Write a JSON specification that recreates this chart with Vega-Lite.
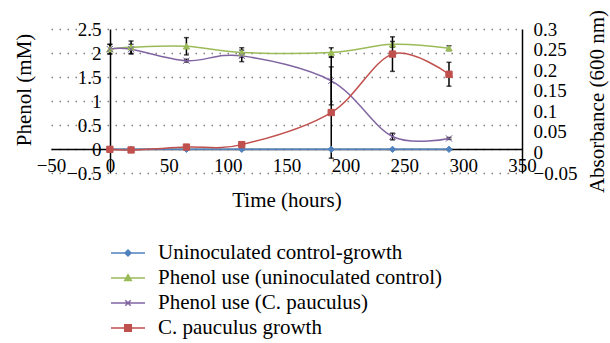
{
  "$schema": "https://vega.github.io/schema/vega-lite/v6.json",
  "width": 471,
  "height": 144,
  "autosize": {"type": "none"},
  "padding": {"left": 51, "top": 29, "right": 88, "bottom": 170},
  "background": "white",
  "config": {
    "font": "Liberation Serif",
    "view": {"stroke": null},
    "axis": {
      "labelFont": "Liberation Serif",
      "titleFont": "Liberation Serif",
      "labelColor": "black",
      "titleColor": "black",
      "titleFontWeight": "normal",
      "labelFontSize": 19,
      "titleFontSize": 21,
      "labelFlush": false,
      "labelOverlap": false,
      "labelBound": false,
      "ticks": false,
      "domainColor": "black",
      "domainWidth": 1.5,
      "format": "~f"
    }
  },
  "data": {
    "values": [
      {"time": 0, "series": "Uninoculated control-growth", "measure": "absorbance", "value": 0.0075, "err": 0},
      {"time": 18, "series": "Uninoculated control-growth", "measure": "absorbance", "value": 0.0075, "err": 0},
      {"time": 65, "series": "Uninoculated control-growth", "measure": "absorbance", "value": 0.0075, "err": 0},
      {"time": 112, "series": "Uninoculated control-growth", "measure": "absorbance", "value": 0.0075, "err": 0},
      {"time": 188, "series": "Uninoculated control-growth", "measure": "absorbance", "value": 0.0075, "err": 0},
      {"time": 240, "series": "Uninoculated control-growth", "measure": "absorbance", "value": 0.0075, "err": 0},
      {"time": 288, "series": "Uninoculated control-growth", "measure": "absorbance", "value": 0.0075, "err": 0},
      {"time": 0, "series": "Phenol use (uninoculated control)", "measure": "phenol", "value": 2.08, "err": 0.1},
      {"time": 18, "series": "Phenol use (uninoculated control)", "measure": "phenol", "value": 2.12, "err": 0.13},
      {"time": 65, "series": "Phenol use (uninoculated control)", "measure": "phenol", "value": 2.14, "err": 0.18},
      {"time": 112, "series": "Phenol use (uninoculated control)", "measure": "phenol", "value": 2.01, "err": 0.1},
      {"time": 188, "series": "Phenol use (uninoculated control)", "measure": "phenol", "value": 2.01, "err": 0.1},
      {"time": 240, "series": "Phenol use (uninoculated control)", "measure": "phenol", "value": 2.18, "err": 0.06},
      {"time": 288, "series": "Phenol use (uninoculated control)", "measure": "phenol", "value": 2.1, "err": 0.05},
      {"time": 0, "series": "Phenol use (C. pauculus)", "measure": "phenol", "value": 2.08, "err": 0.1},
      {"time": 18, "series": "Phenol use (C. pauculus)", "measure": "phenol", "value": 2.08, "err": 0.1},
      {"time": 65, "series": "Phenol use (C. pauculus)", "measure": "phenol", "value": 1.84, "err": 0.03},
      {"time": 112, "series": "Phenol use (C. pauculus)", "measure": "phenol", "value": 1.94, "err": 0.12},
      {"time": 188, "series": "Phenol use (C. pauculus)", "measure": "phenol", "value": 1.42, "err": 0.5},
      {"time": 240, "series": "Phenol use (C. pauculus)", "measure": "phenol", "value": 0.26, "err": 0.07},
      {"time": 288, "series": "Phenol use (C. pauculus)", "measure": "phenol", "value": 0.22, "err": 0.02},
      {"time": 0, "series": "C. pauculus growth", "measure": "absorbance", "value": 0.0075, "err": 0},
      {"time": 18, "series": "C. pauculus growth", "measure": "absorbance", "value": 0.006, "err": 0},
      {"time": 65, "series": "C. pauculus growth", "measure": "absorbance", "value": 0.013, "err": 0},
      {"time": 112, "series": "C. pauculus growth", "measure": "absorbance", "value": 0.019, "err": 0},
      {"time": 188, "series": "C. pauculus growth", "measure": "absorbance", "value": 0.097, "err": 0.111},
      {"time": 240, "series": "C. pauculus growth", "measure": "absorbance", "value": 0.239, "err": 0.042},
      {"time": 288, "series": "C. pauculus growth", "measure": "absorbance", "value": 0.19, "err": 0.029}
    ]
  },
  "encoding": {
    "x": {
      "field": "time",
      "type": "quantitative",
      "scale": {"domain": [-50, 350], "nice": false, "zero": false},
      "axis": {
        "orient": "bottom",
        "offset": -24,
        "values": [-50, 0, 50, 100, 150, 200, 250, 300, 350],
        "title": "Time (hours)",
        "titleX": 235.5,
        "titleY": 57,
        "titleBaseline": "alphabetic",
        "titleAlign": "center",
        "labelPadding": 7,
        "grid": false
      }
    },
    "color": {
      "field": "series",
      "type": "nominal",
      "scale": {
        "domain": ["Uninoculated control-growth", "Phenol use (uninoculated control)", "Phenol use (C. pauculus)", "C. pauculus growth"],
        "range": ["#4f81bd", "#9bbb59", "#8064a2", "#c0504d"]
      },
      "legend": null
    }
  },
  "layer": [
    {
      "transform": [{"filter": "datum.measure == 'phenol'"}],
      "encoding": {
        "y": {
          "field": "value",
          "type": "quantitative",
          "scale": {"domain": [-0.5, 2.5], "nice": false, "zero": false},
          "axis": {
            "orient": "left",
            "offset": -59,
            "values": [-0.5, 0, 0.5, 1, 1.5, 2, 2.5],
            "title": "Phenol (mM)",
            "titleAngle": 270,
            "titleX": -80,
            "titleY": 60.5,
            "titleBaseline": "alphabetic",
            "titleAlign": "center",
            "labelPadding": 9,
            "grid": true,
            "gridColor": "#7f7f7f",
            "gridDash": [1.5, 6.5],
            "gridWidth": 1.3,
            "gridOpacity": 1
          }
        }
      },
      "layer": [
        {
          "transform": [{"filter": "datum.err > 0"}],
          "mark": {"type": "errorbar", "ticks": {"size": 5}, "thickness": 1.5},
          "encoding": {
            "yError": {"field": "err"},
            "color": {"value": "black"}
          }
        },
        {
          "mark": {"type": "line", "interpolate": "cardinal", "strokeWidth": 1.5}
        },
        {
          "mark": {"type": "point", "filled": true, "opacity": 1, "size": 40, "strokeWidth": 1},
          "encoding": {
            "shape": {
              "field": "series",
              "type": "nominal",
              "scale": {
                "domain": ["Uninoculated control-growth", "Phenol use (uninoculated control)", "Phenol use (C. pauculus)", "C. pauculus growth"],
                "range": ["diamond", "triangle-up", "M-1,-1L1,1M-1,1L1,-1", "square"]
              },
              "legend": null
            },
            "stroke": {
              "field": "series",
              "type": "nominal",
              "scale": {
                "domain": ["Uninoculated control-growth", "Phenol use (uninoculated control)", "Phenol use (C. pauculus)", "C. pauculus growth"],
                "range": ["#4f81bd", "#9bbb59", "#8064a2", "#c0504d"]
              },
              "legend": null
            }
          }
        }
      ]
    },
    {
      "transform": [{"filter": "datum.measure == 'absorbance'"}],
      "encoding": {
        "y": {
          "field": "value",
          "type": "quantitative",
          "scale": {"domain": [-0.05, 0.3], "nice": false, "zero": false},
          "axis": {
            "orient": "right",
            "values": [-0.05, 0, 0.05, 0.1, 0.15, 0.2, 0.25, 0.3],
            "title": "Absorbance (600 nm)",
            "titleAngle": 270,
            "titleX": 81,
            "titleY": 72,
            "titleBaseline": "alphabetic",
            "titleAlign": "center",
            "labelPadding": 11,
            "grid": false
          }
        }
      },
      "layer": [
        {
          "transform": [{"filter": "datum.err > 0"}],
          "mark": {"type": "errorbar", "ticks": {"size": 5}, "thickness": 1.5},
          "encoding": {
            "yError": {"field": "err"},
            "color": {"value": "black"}
          }
        },
        {
          "mark": {"type": "line", "interpolate": "cardinal", "strokeWidth": 1.5}
        },
        {
          "mark": {"type": "point", "filled": true, "opacity": 1, "size": 40, "strokeWidth": 1},
          "encoding": {
            "shape": {
              "field": "series",
              "type": "nominal",
              "scale": {
                "domain": ["Uninoculated control-growth", "Phenol use (uninoculated control)", "Phenol use (C. pauculus)", "C. pauculus growth"],
                "range": ["diamond", "triangle-up", "M-1,-1L1,1M-1,1L1,-1", "square"]
              },
              "legend": null
            },
            "stroke": {
              "field": "series",
              "type": "nominal",
              "scale": {
                "domain": ["Uninoculated control-growth", "Phenol use (uninoculated control)", "Phenol use (C. pauculus)", "C. pauculus growth"],
                "range": ["#4f81bd", "#9bbb59", "#8064a2", "#c0504d"]
              },
              "legend": null
            }
          }
        }
      ]
    },
    {
      "transform": [{"filter": "false"}],
      "mark": {"type": "point", "filled": true, "opacity": 1},
      "encoding": {
        "shape": {
          "field": "series",
          "type": "nominal",
          "scale": {
            "domain": ["Uninoculated control-growth", "Phenol use (uninoculated control)", "Phenol use (C. pauculus)", "C. pauculus growth"],
            "range": [
              "M-1.7,0H1.7M0,-0.3L0.3,0L0,0.3L-0.3,0Z",
              "M-1.7,0H1.7M0,-0.33L0.33,0.24L-0.33,0.24Z",
              "M-1.7,0H1.7M-0.27,-0.27L0.27,0.27M-0.27,0.27L0.27,-0.27",
              "M-1.7,0H1.7M-0.33,-0.33H0.33V0.33H-0.33Z"
            ]
          },
          "legend": {
            "orient": "none",
            "legendX": 60,
            "legendY": 213,
            "title": null,
            "padding": 0,
            "symbolSize": 400,
            "symbolOffset": 6,
            "symbolStrokeWidth": 1.5,
            "symbolFillColor": {"expr": "scale('color', datum.value)"},
            "symbolStrokeColor": {"expr": "scale('color', datum.value)"},
            "labelFontSize": 21,
            "labelFont": "Liberation Serif",
            "labelColor": "black",
            "labelOffset": 19,
            "labelLimit": 500,
            "rowPadding": 4,
            "encode": {
              "symbols": {
                "fill": {"value": {"expr": "scale('color', datum.value)"}},
                "stroke": {"value": {"expr": "scale('color', datum.value)"}},
                "strokeWidth": {"value": 1.5},
                "opacity": {"value": 1}
              }
            }
          }
        }
      }
    }
  ],
  "resolve": {"scale": {"y": "independent", "shape": "independent"}}
}
